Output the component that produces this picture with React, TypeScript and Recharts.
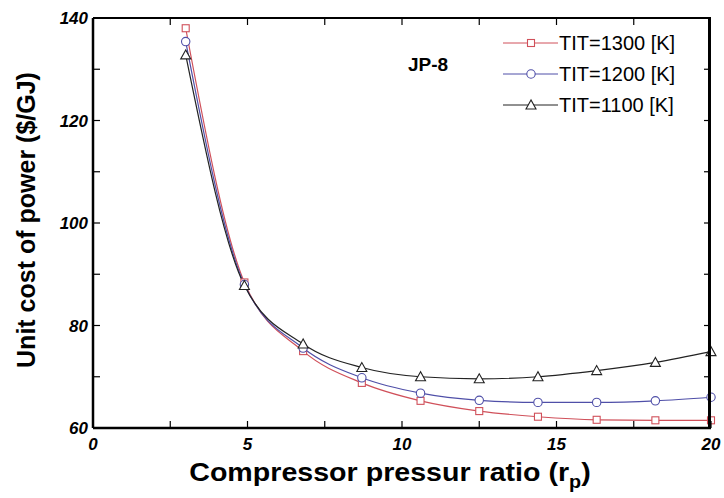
import React from "react";
import { LineChart, Line, XAxis, YAxis } from "recharts";

const pressureRatio = [3, 4.9, 6.8, 8.7, 10.6, 12.5, 14.4, 16.3, 18.2, 20];
const tit1300 = [138, 88.4, 75.0, 68.8, 65.3, 63.3, 62.2, 61.6, 61.5, 61.5];
const tit1200 = [135.4, 88.0, 75.6, 69.8, 66.8, 65.4, 65.0, 65.0, 65.3, 66.0];
const tit1100 = [132.8, 87.8, 76.4, 71.8, 70.0, 69.6, 70.0, 71.2, 72.8, 74.9];

const xTicks = [0, 2.5, 5, 7.5, 10, 12.5, 15, 17.5, 20];
const yTicks = [60, 70, 80, 90, 100, 110, 120, 130, 140];

const series = [
  { key: "t1300", name: "TIT=1300 [K]", color: "#d0505a", shape: "square" },
  { key: "t1200", name: "TIT=1200 [K]", color: "#4f4fa8", shape: "circle" },
  { key: "t1100", name: "TIT=1100 [K]", color: "#222222", shape: "triangle" },
];

const data = pressureRatio.map((x, i) => ({
  x,
  t1300: tit1300[i],
  t1200: tit1200[i],
  t1100: tit1100[i],
}));

const FONT = "'Liberation Sans', Arial, sans-serif";
const X_DOMAIN = [0, 20];
const Y_DOMAIN = [60, 140];

// plot box (chart size minus margins / axis sizes below)
const W = 724;
const H = 498;
const PLOT = { left: 93, top: 18, right: W - 13, bottom: H - 70 };

function Marker({ cx, cy, shape, color }: any) {
  if (cx == null || cy == null) return null;
  if (shape === "square")
    return <rect x={cx - 3.5} y={cy - 3.5} width={7} height={7} fill="#fff" stroke={color} strokeWidth={1.1} />;
  if (shape === "circle")
    return <circle cx={cx} cy={cy} r={4.2} fill="#fff" stroke={color} strokeWidth={1.1} />;
  return (
    <polygon
      points={`${cx},${cy - 5} ${cx - 5},${cy + 4} ${cx + 5},${cy + 4}`}
      fill="#fff"
      stroke={color}
      strokeWidth={1.1}
    />
  );
}

const BottomTick = ({ x, y, payload }: any) => {
  const major = payload.value % 5 === 0;
  return (
    <g>
      <line x1={x} x2={x} y1={y} y2={y - 7} stroke="#000" strokeWidth={1.2} />
      {major && (
        <text x={x} y={y + 22} textAnchor="middle" fontFamily={FONT} fontWeight="bold" fontStyle="italic" fontSize={17} fill="#000">
          {payload.value}
        </text>
      )}
    </g>
  );
};

const LeftTick = ({ x, y, payload }: any) => {
  const major = payload.value % 20 === 0;
  return (
    <g>
      <line x1={x} x2={x + 7} y1={y} y2={y} stroke="#000" strokeWidth={1.2} />
      {major && (
        <text x={x - 5} y={y + 6} textAnchor="end" fontFamily={FONT} fontWeight="bold" fontStyle="italic" fontSize={17} fill="#000">
          {payload.value}
        </text>
      )}
    </g>
  );
};

// inward ticks on the top and right edges of the box
const EdgeTicks = () => {
  const sx = (v: number) => PLOT.left + ((v - X_DOMAIN[0]) / (X_DOMAIN[1] - X_DOMAIN[0])) * (PLOT.right - PLOT.left);
  const sy = (v: number) => PLOT.bottom - ((v - Y_DOMAIN[0]) / (Y_DOMAIN[1] - Y_DOMAIN[0])) * (PLOT.bottom - PLOT.top);
  return (
    <svg width={W} height={H} style={{ position: "absolute", left: 0, top: 0, pointerEvents: "none" }}>
      {xTicks.slice(1, -1).map((t) => (
        <line key={"tx" + t} x1={sx(t)} x2={sx(t)} y1={PLOT.top} y2={PLOT.top + 7} stroke="#000" strokeWidth={1.2} />
      ))}
      {yTicks.slice(1, -1).map((t) => (
        <line key={"ty" + t} x1={PLOT.right} x2={PLOT.right - 7} y1={sy(t)} y2={sy(t)} stroke="#000" strokeWidth={1.2} />
      ))}
    </svg>
  );
};

const LegendBox = () => (
  <svg width={210} height={100} style={{ position: "absolute", left: 503, top: 31 }}>
    {series.map((s, i) => {
      const y = 12 + i * 31;
      return (
        <g key={s.key}>
          <line x1={0} x2={55} y1={y} y2={y} stroke={s.color} strokeWidth={1} />
          <Marker cx={28} cy={y} shape={s.shape} color={s.color} />
          <text x={56} y={y + 7} fontFamily={FONT} fontSize={20} fill="#000">
            {s.name}
          </text>
        </g>
      );
    })}
  </svg>
);

export default function App() {
  return (
    <div style={{ position: "absolute", left: 0, top: 0, width: W, height: H, background: "#fff" }}>
      <LineChart width={W} height={H} data={data} margin={{ top: PLOT.top, right: W - PLOT.right, bottom: 0, left: 0 }}>
        <XAxis
          dataKey="x"
          type="number"
          domain={X_DOMAIN}
          ticks={xTicks}
          interval={0}
          height={H - PLOT.bottom}
          tickSize={0}
          tickMargin={0}
          tickLine={false}
          axisLine={{ stroke: "#000", strokeWidth: 2.5 }}
          tick={<BottomTick />}
        />
        <YAxis
          type="number"
          domain={Y_DOMAIN}
          ticks={yTicks}
          interval={0}
          width={PLOT.left}
          tickSize={0}
          tickMargin={0}
          tickLine={false}
          axisLine={{ stroke: "#000", strokeWidth: 2.5 }}
          tick={<LeftTick />}
        />
        {series.map((s) => (
          <Line
            key={s.key}
            dataKey={s.key}
            name={s.name}
            type="monotone"
            stroke={s.color}
            strokeWidth={1.2}
            isAnimationActive={false}
            dot={(p: any) => <Marker key={p.index} cx={p.cx} cy={p.cy} shape={s.shape} color={s.color} />}
          />
        ))}
      </LineChart>
      <div
        style={{
          position: "absolute",
          left: PLOT.left,
          top: PLOT.top - 1,
          width: PLOT.right - PLOT.left,
          height: PLOT.bottom - PLOT.top,
          borderTop: "2px solid #000",
          borderRight: "3px solid #000",
          boxSizing: "border-box",
          pointerEvents: "none",
        }}
      />
      <EdgeTicks />
      <LegendBox />
      <div style={{ position: "absolute", left: 408, top: 54, fontFamily: FONT, fontWeight: "bold", fontSize: 19 }}>
        JP-8
      </div>
      <div
        style={{
          position: "absolute",
          left: 390,
          top: 475,
          transform: "translate(-50%, -50%) scaleX(1.1)",
          whiteSpace: "nowrap",
          fontFamily: FONT,
          fontWeight: "bold",
          fontSize: 26,
        }}
      >
        Compressor pressur ratio (r<sub style={{ fontSize: 18 }}>p</sub>)
      </div>
      <div
        style={{
          position: "absolute",
          left: 26,
          top: 220,
          transform: "translate(-50%, -50%) rotate(-90deg)",
          whiteSpace: "nowrap",
          fontFamily: FONT,
          fontWeight: "bold",
          fontSize: 25,
        }}
      >
        Unit cost of power ($/GJ)
      </div>
    </div>
  );
}
